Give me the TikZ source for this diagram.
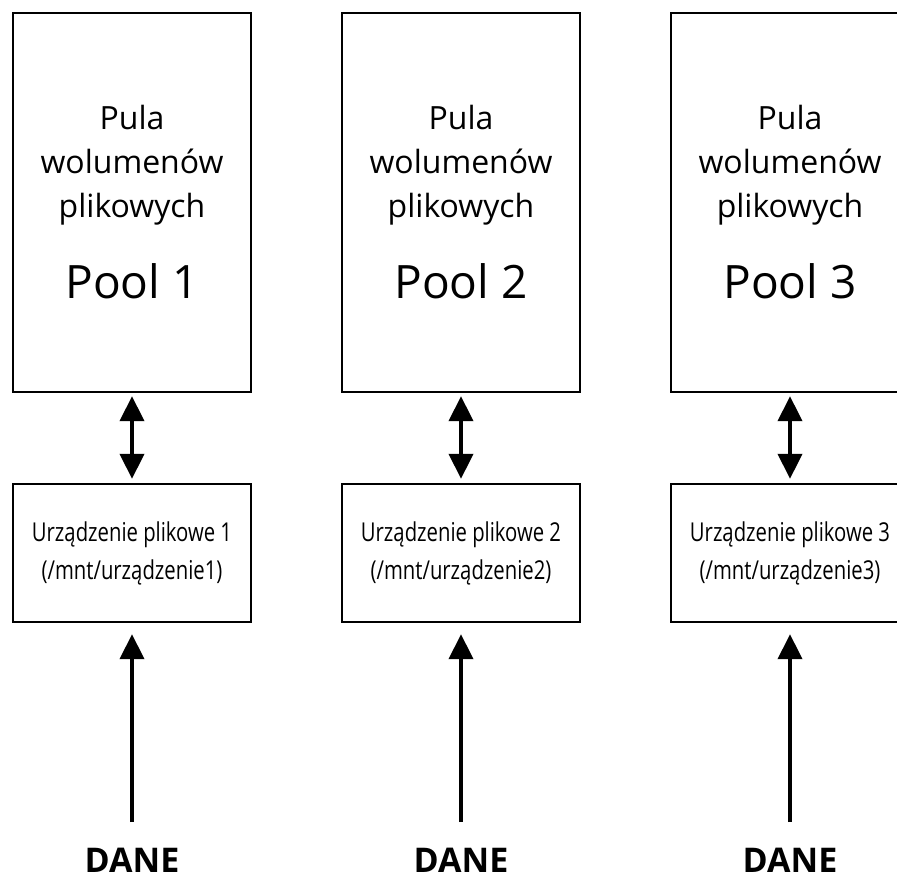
\documentclass[tikz,border=0pt]{standalone}
\usepackage{fontspec}
\setmainfont{Open Sans}
\newfontfamily\narrowfont[FakeStretch=0.78]{Open Sans}
\usetikzlibrary{arrows.meta}

\begin{document}
\begin{tikzpicture}[x=1pt,y=1pt,
  poolbox/.style={draw, line width=1.2, minimum width=119pt,
    minimum height=189.5pt, inner sep=0pt, align=center,
    font=\fontsize{16}{22}\selectfont},
  devbox/.style={draw, line width=1.2, minimum width=119pt,
    minimum height=69pt, inner sep=0pt, align=center,
    font=\narrowfont\fontsize{13}{19}\selectfont},
  danelabel/.style={anchor=base, inner sep=0pt,
    font=\bfseries\fontsize{17}{20}\selectfont},
  link/.style={line width=2,
    {Triangle[length=12.5pt,width=12pt]}-{Triangle[length=12.5pt,width=12pt]},
    shorten <=1.5pt, shorten >=2pt},
  feed/.style={line width=2, -{Triangle[length=12.5pt,width=12pt]},
    shorten >=5.5pt}]

\useasboundingbox (0,0) rectangle (448.5,439.5);

\node[poolbox] (pool1) at (66,338.25)
  {Pula\\wolumenów\\plikowych\\[18.5pt]{\fontsize{23}{28}\selectfont Pool 1}};
\node[devbox] (dev1) at (66,163)
  {Urządzenie plikowe 1\\(/mnt/urządzenie1)};
\coordinate (src1) at (66,28.5);
\node[danelabel] (dane1) at (66,3.5) {DANE};
\draw[link] (pool1) -- (dev1);
\draw[feed] (src1) -- (dev1);

\node[poolbox] (pool2) at (230.5,338.25)
  {Pula\\wolumenów\\plikowych\\[18.5pt]{\fontsize{23}{28}\selectfont Pool 2}};
\node[devbox] (dev2) at (230.5,163)
  {Urządzenie plikowe 2\\(/mnt/urządzenie2)};
\coordinate (src2) at (230.5,28.5);
\node[danelabel] (dane2) at (230.5,3.5) {DANE};
\draw[link] (pool2) -- (dev2);
\draw[feed] (src2) -- (dev2);

\node[poolbox] (pool3) at (395,338.25)
  {Pula\\wolumenów\\plikowych\\[18.5pt]{\fontsize{23}{28}\selectfont Pool 3}};
\node[devbox] (dev3) at (395,163)
  {Urządzenie plikowe 3\\(/mnt/urządzenie3)};
\coordinate (src3) at (395,28.5);
\node[danelabel] (dane3) at (395,3.5) {DANE};
\draw[link] (pool3) -- (dev3);
\draw[feed] (src3) -- (dev3);

\end{tikzpicture}
\end{document}
